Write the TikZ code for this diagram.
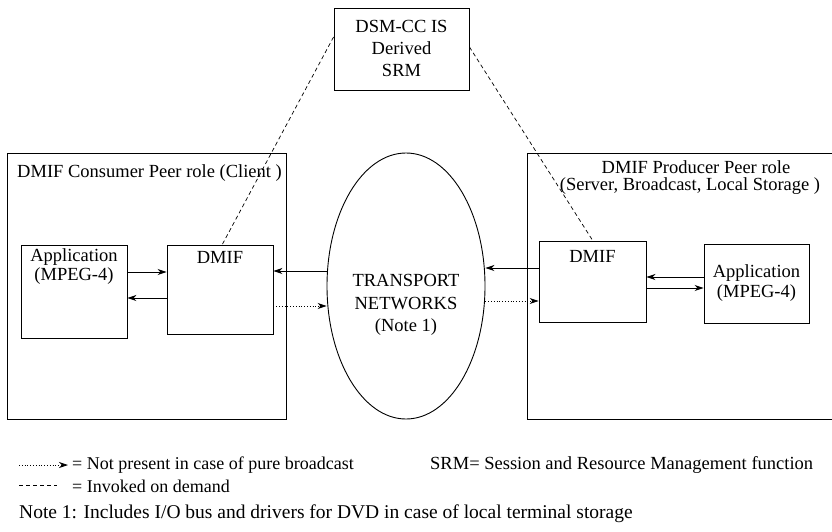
\documentclass[tikz,border=0pt]{standalone}
\usepackage{fontspec}
\setmainfont{Liberation Serif}
\usetikzlibrary{shapes.geometric,arrows.meta}
\begin{document}
\begin{tikzpicture}[x=1pt,y=-1pt,
  every node/.style={font=\rmfamily\fontsize{18.5}{21}\selectfont},
  frame/.style={draw,line width=0.9pt},
  blockbox/.style={draw,line width=0.9pt,inner sep=0pt},
  txt/.style={inner sep=0pt,align=center},
  lead/.style={font=\rmfamily\fontsize{18.5}{#1}\selectfont},
  keytext/.style={inner sep=0pt,anchor=west,font=\rmfamily\fontsize{18}{21}\selectfont},
  flow/.style={line width=0.9pt,-{Stealth[length=9pt,width=6pt]}},
  optflow/.style={line width=0.8pt,dotted,-{Stealth[length=9pt,width=6pt]}},
  ondemand/.style={line width=0.7pt,dash pattern=on 4pt off 3pt}]
\useasboundingbox (0,0) rectangle (832,531);

% session and resource manager
\node[blockbox,minimum width=135pt,minimum height=82pt] (srm) at (401.5,49) {};
\node[txt,lead=22] (srmtext) at (401.5,48) {DSM-CC IS\\Derived\\SRM};

% consumer peer
\draw[frame] (7,153) rectangle (286,419);
\node[txt,anchor=west] (ctitle) at (17,173) {DMIF Consumer Peer role (Client )};
\node[blockbox,minimum width=106pt,minimum height=93pt] (lapp) at (74,291.5) {};
\node[txt,lead=19] (lapptext) at (74,267) {Application\\(MPEG-4)};
\node[blockbox,minimum width=106pt,minimum height=89pt] (ldmif) at (220,289.5) {};
\node[txt] (ldmiftext) at (220,257) {DMIF};

% transport networks
\node[draw,line width=0.9pt,ellipse,minimum width=158pt,minimum height=266pt,inner sep=0pt] (net) at (406,286) {};
\node[txt,lead=22.5] (nettext) at (406,305) {TRANSPORT\\NETWORKS\\(Note 1)};

% producer peer (box runs past the right edge)
\coordinate (ptr) at (833,153);
\coordinate (pbr) at (833,419);
\draw[frame] (ptr) -- (527,153) -- (527,419) -- (pbr);
\node[txt] (ptitle1) at (696,167) {DMIF Producer Peer role};
\node[txt] (ptitle2) at (690,186) {(Server, Broadcast, Local Storage )};
\node[blockbox,minimum width=107pt,minimum height=81pt] (rdmif) at (592.5,281.5) {};
\node[txt] (rdmiftext) at (592.5,256) {DMIF};
\node[blockbox,minimum width=105pt,minimum height=79pt] (rapp) at (756.5,283.5) {};
\node[txt,lead=20] (rapptext) at (756.5,283) {Application\\(MPEG-4)};

% consumer side flows
\draw[flow] (lapp.east |- 0,272) -- (ldmif.west |- 0,272);
\draw[flow] (ldmif.west |- 0,298) -- (lapp.east |- 0,298);
\draw[flow] (net.west |- 0,271) -- (ldmif.east |- 0,271);
\draw[optflow] (ldmif.east |- 0,306) -- (net.west |- 0,306);

% producer side flows
\draw[flow] (rdmif.west |- 0,268) -- (net.east |- 0,268);
\draw[optflow] (net.east |- 0,301) -- (rdmif.west |- 0,301);
\draw[flow] (rapp.west |- 0,277) -- (rdmif.east |- 0,277);
\draw[flow] (rdmif.east |- 0,288) -- (rapp.west |- 0,288);

% on-demand invocation of the SRM
\draw[ondemand] (srm.west |- 0,37) -- (222,245);
\draw[ondemand] (srm.east |- 0,47) -- (593,241);

% legend
\coordinate (k1a) at (19,465);
\coordinate (k1b) at (68,465);
\draw[optflow] (k1a) -- (k1b);
\node[keytext] (k1text) at (72,465) {= Not present in case of pure broadcast};
\node[keytext,font=\rmfamily\fontsize{18.5}{21}\selectfont] (srmdef) at (430,465) {SRM= Session and Resource Management function};
\coordinate (k2a) at (19,485);
\coordinate (k2b) at (57,485);
\draw[ondemand] (k2a) -- (k2b);
\node[keytext] (k2text) at (72,486) {= Invoked on demand};
\node[keytext,font=\rmfamily\fontsize{19.5}{22}\selectfont] (note) at (19,514) {Note 1: Includes I/O bus and drivers for DVD in case of local terminal storage};
\end{tikzpicture}
\end{document}
